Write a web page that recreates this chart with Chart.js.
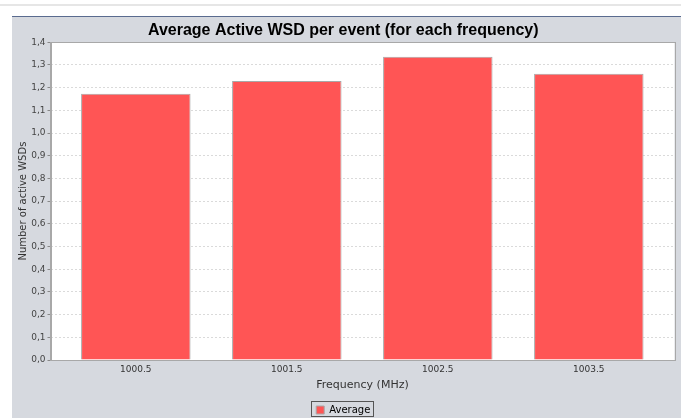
<!DOCTYPE html>
<html lang="en">
<head>
    <meta charset="UTF-8">
    <title>Average Active WSD per event</title>
    <script src="https://cdn.jsdelivr.net/npm/chart.js"></script>
    <style>
        body {
            margin: 0;
            background: #ffffff;
        }
        #chartBox {
            width: 692px;
            height: 418px;
        }
    </style>
</head>
<body>
    <div id="chartBox">
        <canvas id="wsdChart" width="692" height="418"></canvas>
    </div>

    <script>
        // data
        const frequencies = ['1000.5', '1001.5', '1002.5', '1003.5'];
        const averageWsd = [1.173, 1.229, 1.336, 1.261];
        const yTicks = [0, 0.1, 0.2, 0.3, 0.4, 0.5, 0.6, 0.7, 0.8, 0.9, 1.0, 1.1, 1.2, 1.3, 1.4];

        // page frame, grey panel and white plot area (JFreeChart look)
        const panelBackground = {
            id: 'panelBackground',
            beforeDraw(chart) {
                const c = chart.ctx;
                const a = chart.chartArea;
                c.save();
                c.fillStyle = '#ffffff';
                c.fillRect(0, 0, chart.width, chart.height);
                c.fillStyle = '#e6e6e6';
                c.fillRect(0, 4, chart.width, 2);
                c.fillStyle = '#d6d9df';
                c.fillRect(12, 17, 669, chart.height - 17);
                c.fillStyle = '#5a6b8f';
                c.fillRect(12, 16, 669, 1);
                c.fillStyle = '#ffffff';
                c.fillRect(a.left, a.top, a.right - a.left, a.bottom - a.top);
                c.restore();
            },
            beforeDatasetsDraw(chart) {
                // keep grid lines inside the plot area
                const c = chart.ctx;
                const a = chart.chartArea;
                c.save();
                c.fillStyle = '#d6d9df';
                c.fillRect(Math.round(a.right) + 1, 17, 681 - Math.round(a.right) - 1, a.bottom);
                c.fillStyle = '#ffffff';
                c.fillRect(681, 0, chart.width - 681, chart.height);
                c.restore();
            },
            afterDraw(chart) {
                const c = chart.ctx;
                const a = chart.chartArea;
                c.save();
                c.strokeStyle = '#a8a8a8';
                c.lineWidth = 1;
                c.strokeRect(Math.round(a.left) + 0.5, Math.round(a.top) + 0.5,
                    Math.round(a.right - a.left), Math.round(a.bottom - a.top));
                // border round the legend
                const lg = chart.legend;
                if (lg && lg.legendHitBoxes.length) {
                    const hb = lg.legendHitBoxes[0];
                    c.strokeStyle = '#555555';
                    c.strokeRect(Math.round(hb.left) - 4.5, Math.round(hb.top) - 3.5,
                        Math.round(hb.width) + 8, Math.round(hb.height) + 5);
                }
                c.restore();
            }
        };

        const ctx = document.getElementById('wsdChart').getContext('2d');
        const wsdChart = new Chart(ctx, {
            type: 'bar',
            data: {
                datasets: [{
                    label: 'Average',
                    data: averageWsd.map((v, i) => ({ x: i, y: v })),
                    backgroundColor: '#ff5555',
                    borderColor: '#a8a8a8',
                    borderWidth: 1,
                    barPercentage: 0.725,
                    categoryPercentage: 1.0
                }]
            },
            options: {
                responsive: false,
                animation: false,
                layout: {
                    padding: { left: 12, right: 17.5, top: 17, bottom: -7 }
                },
                plugins: {
                    title: {
                        display: true,
                        text: 'Average Active WSD per event (for each frequency)',
                        color: '#000000',
                        font: { family: 'Liberation Sans', size: 16, weight: 'bold' },
                        padding: { top: 4, bottom: 2 }
                    },
                    legend: {
                        display: true,
                        position: 'bottom',
                        labels: {
                            boxWidth: 8,
                            boxHeight: 8,
                            padding: 0,
                            color: '#000000',
                            font: { family: 'DejaVu Sans', size: 10 }
                        }
                    },
                    tooltip: { enabled: false }
                },
                scales: {
                    x: {
                        type: 'linear',
                        offset: false,
                        min: -0.565,
                        max: 3.5675,
                        afterBuildTicks(scale) {
                            scale.ticks = frequencies.map((f, i) => ({ value: i }));
                        },
                        afterFit(scale) {
                            scale.height = 45;
                        },
                        grid: { display: false, drawTicks: false },
                        border: { display: false },
                        ticks: {
                            autoSkip: false,
                            maxRotation: 0,
                            padding: 4,
                            color: '#333333',
                            font: { family: 'DejaVu Sans', size: 9 },
                            callback: (v) => frequencies[v]
                        },
                        title: {
                            display: true,
                            text: 'Frequency (MHz)',
                            color: '#333333',
                            font: { family: 'DejaVu Sans', size: 11 },
                            padding: { top: 4, bottom: 13 }
                        }
                    },
                    y: {
                        min: 0,
                        max: 1.4,
                        afterBuildTicks(scale) {
                            scale.ticks = yTicks.map((v) => ({ value: v }));
                        },
                        afterFit(scale) {
                            scale.width = 38.5;
                        },
                        grid: {
                            color: '#dadada',
                            tickColor: '#888888',
                            tickLength: 3,
                            tickBorderDash: []
                        },
                        border: { display: true, color: '#a8a8a8', dash: [2, 2] },
                        ticks: {
                            padding: 2,
                            color: '#444444',
                            font: { family: 'DejaVu Sans', size: 9 },
                            callback: (v) => v.toFixed(1).replace('.', ',')
                        },
                        title: {
                            display: true,
                            text: 'Number of active WSDs',
                            color: '#333333',
                            font: { family: 'DejaVu Sans', size: 10 },
                            padding: { top: 5, bottom: 0 }
                        }
                    }
                }
            },
            plugins: [panelBackground]
        });
    </script>
</body>
</html>
